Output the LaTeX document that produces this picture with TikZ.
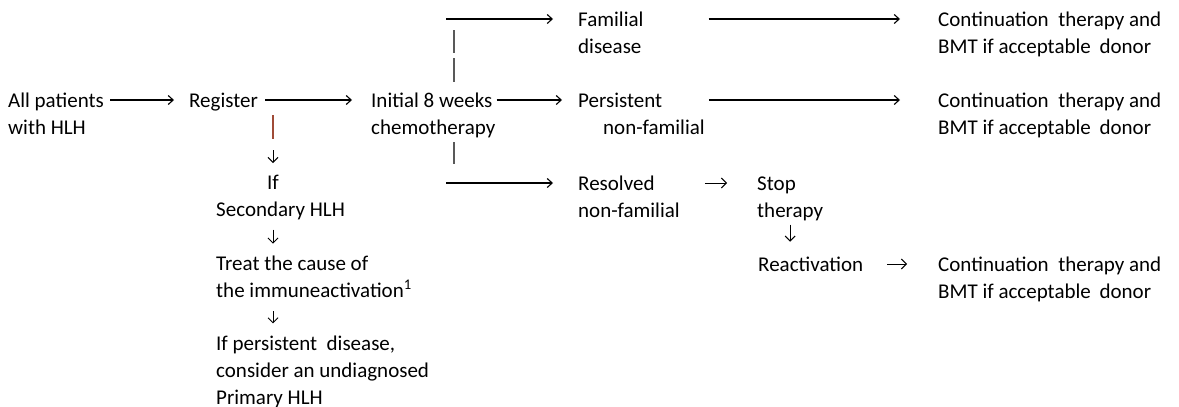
\documentclass[tikz,border=0pt]{standalone}
\usepackage{fontspec}
\setmainfont{Carlito}
\usetikzlibrary{arrows.meta}
\tikzset{
  flowText/.style={
    anchor=north west, inner sep=0pt, align=left,
    font=\fontsize{21}{27}\selectfont
  },
  longArrow/.style={
    -{Straight Barb[length=5pt,width=9pt]},
    line width=1.1pt
  },
  shortArrow/.style={
    -{Straight Barb[length=5pt,width=10pt]},
    line width=1pt
  },
  forkBar/.style={line width=1.3pt, draw=black!65},
  regBar/.style={line width=1.1pt, draw={rgb,255:red,160;green,75;blue,55}}
}
\newcommand\contText{\strut Continuation\hspace{5pt} therapy and\\BMT if acceptable\hspace{4pt} donor}

\begin{document}
\begin{tikzpicture}[x=1pt,y=-1pt]
    \useasboundingbox (0,0) rectangle (1179,407);

    % main line
    \node[flowText] (allPatients) at (8,88) {\strut All patients\\with HLH};
    \node[flowText] (register) at (189,88) {\strut Register};
    \node[flowText] (initial) at (371,88) {\strut Initial 8 weeks\\chemotherapy};

    % outcomes
    \node[flowText] (familial) at (578,7) {\strut Familial\\disease};
    \node[flowText] (persistent) at (578,88) {\strut Persistent\\\hspace*{25pt}non-familial};
    \node[flowText] (resolved) at (578,171) {\strut Resolved\\non-familial};
    \node[flowText] (stopTherapy) at (757,171) {\strut Stop\\therapy};
    \node[flowText] (reactivation) at (758,252) {\strut Reactivation};

    \node[flowText] (contA) at (938,7) {\contText};
    \node[flowText] (contB) at (938,88) {\contText};
    \node[flowText] (contC) at (938,252) {\contText};

    % secondary branch
    \coordinate (leftStem) at (273,0);
    \node[flowText] (ifSecondary) at (216,170) {\strut\hspace*{51pt}If\\Secondary HLH};
    \node[flowText] (treat) at (216,251) {\strut Treat the cause of\\the immuneactivation\textsuperscript{1}};
    \node[flowText] (undiagnosed) at (216,331) {\strut If persistent\ \ disease,\\consider an undiagnosed\\Primary HLH};

    % horizontal arrows
    \draw[longArrow, shorten <=6pt, shorten >=15pt]
      ([yshift=-12pt]allPatients.north east) -- ([yshift=-12pt]register.north west);
    \draw[longArrow, shorten <=7pt, shorten >=19pt]
      ([yshift=-12pt]register.north east) -- ([yshift=-12pt]register.north east -| initial.west);
    \draw[longArrow, shorten <=1pt, shorten >=16pt]
      ([yshift=-12pt]initial.north east) -- ([yshift=-12pt]persistent.north west);
    \draw[longArrow, shorten <=65pt, shorten >=38pt]
      ([yshift=-12pt]familial.north east) -- ([yshift=-12pt]contA.north west);
    \draw[longArrow, shorten <=4pt, shorten >=38pt]
      ([yshift=-12pt]persistent.north east) -- ([yshift=-12pt]contB.north west);
    \draw[shortArrow, shorten <=25pt, shorten >=30pt]
      ([yshift=-12pt]resolved.north east) -- ([yshift=-12pt]stopTherapy.north west);
    \draw[shortArrow, shorten <=24pt, shorten >=31pt]
      ([yshift=-12pt]reactivation.north east) -- ([yshift=-12pt]contC.north west);

    % fork after the initial chemotherapy
    \coordinate (forkTop) at (446,19);
    \coordinate (forkBottom) at (446,183);
    \draw[longArrow, shorten >=25pt] (forkTop) -- (forkTop -| familial.west);
    \draw[longArrow, shorten >=25pt] (forkBottom) -- (forkBottom -| resolved.west);
    \draw[forkBar] (454,30) -- ++(0,23) (454,58) -- ++(0,24) (454,142) -- ++(0,22);

    % downward steps
    \draw[regBar] (leftStem |- register.south) -- ++(0,24);
    \draw[shortArrow] (leftStem |- ifSecondary.north) ++(0,-20) -- ++(0,13);
    \draw[shortArrow] (leftStem |- ifSecondary.south) ++(0,10) -- ++(0,14);
    \draw[shortArrow] (leftStem |- treat.south) ++(0,14) -- ++(0,12);
    \draw[shortArrow] (stopTherapy.south) ++(0,4) -- ++(0,17);
\end{tikzpicture}
\end{document}
